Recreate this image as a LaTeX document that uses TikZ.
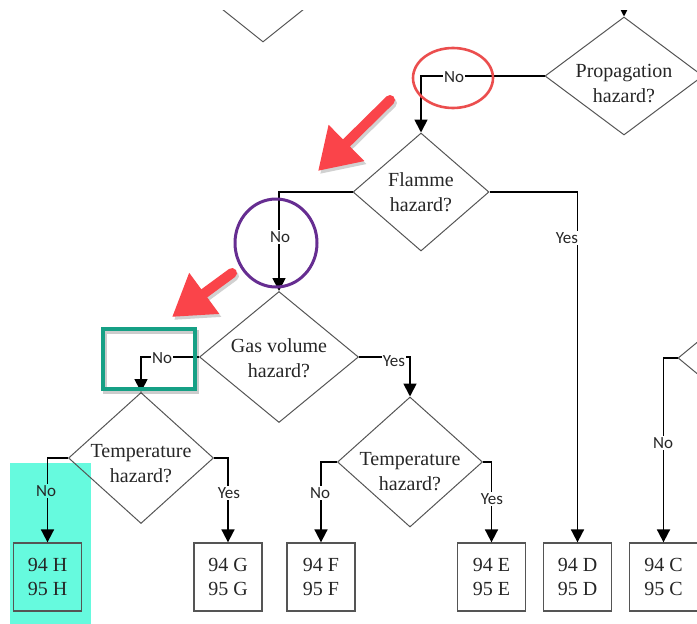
\documentclass[tikz,border=0pt]{standalone}
\usepackage{fontspec}
\setmainfont{Liberation Serif}
\newfontfamily\lblfont{Carlito}
\usetikzlibrary{shapes.geometric,arrows.meta}
\definecolor{hl}{RGB}{102,250,222}
\definecolor{tealbox}{RGB}{22,160,133}
\definecolor{purp}{RGB}{102,45,145}
\definecolor{redc}{RGB}{235,78,78}
\definecolor{reda}{RGB}{250,68,74}
\definecolor{edge}{RGB}{85,85,85}
\begin{document}
\begin{tikzpicture}[x=1pt,y=-1pt,
  dia/.style={diamond, draw=edge, line width=1pt, inner sep=0pt},
  dtext/.style={font=\fontsize{20}{25}\selectfont, align=center, text=black!85, inner sep=0pt},
  outbox/.style={rectangle, draw=edge, line width=1.3pt, minimum width=68pt, minimum height=68pt,
    inner sep=0pt, align=center, font=\fontsize{20}{24}\selectfont, text=black!85},
  conn/.style={draw=black, line width=1.8pt, -{Triangle[length=13pt,width=13pt]}},
  lbl/.style={font=\lblfont\fontsize{17}{17}\selectfont, fill=white, inner sep=1pt, text=black!85},
  redarrow/.style={reda, line width=10pt, line cap=round, -{Triangle[length=40pt,width=48pt]}},
  shadowarrow/.style={black, opacity=0.18, line width=10pt, line cap=round, -{Triangle[length=40pt,width=48pt]}}
]
\useasboundingbox (0,0) rectangle (697,624);
\begin{scope}
\clip (0,10) rectangle (697,624);
% highlight
\fill[hl] (10,463) rectangle (91,624);

% diamonds
\node[dia, minimum width=150pt, minimum height=120pt] (tl) at (263,-18) {};
\node[dia, minimum width=158pt, minimum height=118pt] (prop) at (624,76) {};
\node[dtext] (propT) at ([yshift=-8pt]prop.center) {Propagation\\hazard?};
\node[dia, minimum width=136pt, minimum height=118pt] (flam) at (421,192) {};
\node[dtext] (flamT) at (flam.center) {Flamme\\hazard?};
\node[dia, minimum width=159pt, minimum height=131pt] (gas) at (279,357) {};
\node[dtext] (gasT) at ([yshift=-1pt]gas.center) {Gas volume\\hazard?};
\node[dia, minimum width=145pt, minimum height=131pt] (t1) at (141,458) {};
\node[dtext] (t1T) at ([yshift=-6pt]t1.center) {Temperature\\hazard?};
\node[dia, minimum width=145pt, minimum height=130pt] (t2) at (410,462) {};
\node[dtext] (t2T) at ([yshift=-10pt]t2.center) {Temperature\\hazard?};
\node[dia, minimum width=150pt, minimum height=124pt] (rd) at (753,358) {};

% boxes
\node[outbox] (bH) at (47.5,577) {94 H\\95 H};
\node[outbox] (bG) at (228,577) {94 G\\95 G};
\node[outbox] (bF) at (321,577) {94 F\\95 F};
\node[outbox] (bE) at (491.5,577) {94 E\\95 E};
\node[outbox] (bD) at (577.5,577) {94 D\\95 D};
\node[outbox] (bC) at (663.5,577) {94 C\\95 C};

% connectors
\coordinate (ptop) at (624,-10);
\draw[conn] (ptop) -- (prop.north);
\draw[conn] (prop.west) -| (flam.north);
\draw[conn] (flam.west) -| (gas.north);
\draw[conn] (flam.east) -| (bD.north);
\draw[conn] (gas.west) -| (t1.north);
\draw[conn] (gas.east) -| (t2.north);
\draw[conn] (t1.west) -| (bH.north);
\draw[conn] (t1.east) -| (bG.north);
\draw[conn] (t2.west) -| (bF.north);
\draw[conn] (t2.east) -| (bE.north);
\draw[conn] (rd.west) -| (bC.north);

% labels
\node[lbl] (l1) at (454,77) {No};
\node[lbl] (l2) at (280,237) {No};
\node[lbl] (l3) at (567,238) {Yes};
\node[lbl] (l4) at (162,358) {No};
\node[lbl] (l5) at (394,361) {Yes};
\node[lbl, fill=hl] (l6) at (46,491) {No};
\node[lbl] (l7) at (229,493) {Yes};
\node[lbl] (l8) at (320,493) {No};
\node[lbl] (l9) at (492,499) {Yes};
\node[lbl] (l10) at (663,443) {No};

% annotations
\draw[redc, line width=2.6pt] (453,78) ellipse [x radius=40pt, y radius=30pt];
\draw[purp, line width=3pt] (276,243) ellipse [x radius=41pt, y radius=44pt];
\draw[black, opacity=0.2, line width=3.5pt] (105,332) rectangle (197,392);
\draw[tealbox, line width=3.5pt] (103,329) rectangle (195,389);

\draw[shadowarrow] (392,103) -- (320,174);
\draw[redarrow] (390,100) -- (318,171);
\draw[shadowarrow] (234,276) -- (174,320);
\draw[redarrow] (232,273) -- (172,317);
\end{scope}
\end{tikzpicture}
\end{document}
